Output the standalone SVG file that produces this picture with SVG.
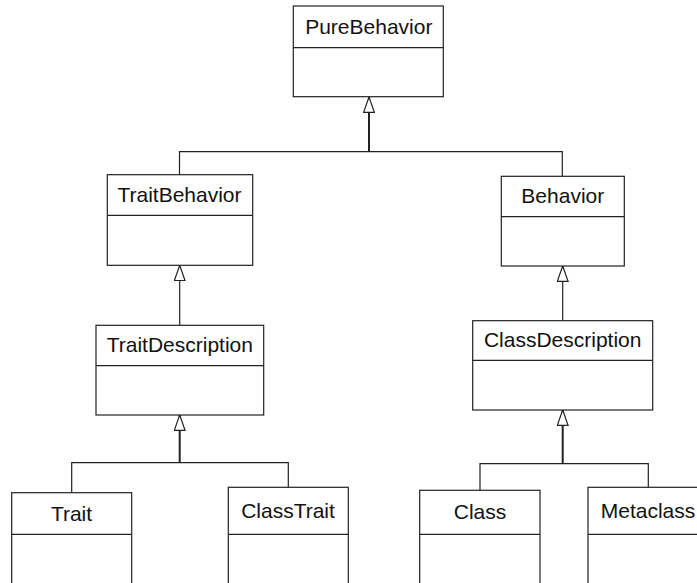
<svg xmlns="http://www.w3.org/2000/svg" width="697" height="583" viewBox="0 0 697 583">
  <style>
    .box { fill: #fff; stroke: #222; stroke-width: 1.2; }
    .sep { stroke: #222; stroke-width: 1.2; }
    .name { font-family: "Liberation Sans", Arial, sans-serif; font-size: 21px; fill: #111; text-anchor: middle; }
    .link { fill: none; stroke: #222; stroke-width: 1.2; }
    .stem { fill: none; stroke: #222; stroke-width: 2; marker-end: url(#gen); }
  </style>
  <defs>
    <!-- hollow generalization triangle, tip at the parent box -->
    <marker id="gen" viewBox="0 0 17 12" refX="16" refY="6" markerWidth="17" markerHeight="12" markerUnits="userSpaceOnUse" orient="auto">
      <path d="M0.6,0.6 L16,6 L0.6,11.4 Z" fill="#fff" stroke="#222" stroke-width="1.2"/>
    </marker>
  </defs>

  <g id="connectors">
    <path class="link" d="M179.5 174.7 V151.7 H562.3 V176.3"/>
    <path class="stem" d="M369 151.7 V97"/>
    <path class="stem" style="stroke-width:1.2" d="M179.7 325.3 V265.3"/>
    <path class="stem" style="stroke-width:1.2" d="M562.7 320.7 V266"/>
    <path class="link" d="M71.7 492.7 V462.7 H288.3 V487.3"/>
    <path class="stem" d="M179.7 462.7 V415"/>
    <path class="link" d="M480 490.3 V463.7 H648.3 V487.3"/>
    <path class="stem" d="M562.7 463.7 V410"/>
  </g>

  <g id="PureBehavior">
    <rect class="box" x="293.3" y="6" width="150" height="90.7"/>
    <line class="sep" x1="293.3" y1="47.7" x2="443.3" y2="47.7"/>
    <text class="name" x="368.8" y="34.3">PureBehavior</text>
  </g>

  <g id="TraitBehavior">
    <rect class="box" x="107.3" y="174.7" width="145.4" height="90.6"/>
    <line class="sep" x1="107.3" y1="215.3" x2="252.7" y2="215.3"/>
    <text class="name" x="179.5" y="202.3">TraitBehavior</text>
  </g>

  <g id="Behavior">
    <rect class="box" x="501.3" y="176.3" width="123" height="89.7"/>
    <line class="sep" x1="501.3" y1="216.7" x2="624.3" y2="216.7"/>
    <text class="name" x="562.8" y="203.3">Behavior</text>
  </g>

  <g id="TraitDescription">
    <rect class="box" x="96" y="325.3" width="167.7" height="89.7"/>
    <line class="sep" x1="96" y1="365.7" x2="263.7" y2="365.7"/>
    <text class="name" x="179.8" y="351.7">TraitDescription</text>
  </g>

  <g id="ClassDescription">
    <rect class="box" x="472.7" y="320.7" width="180" height="89.3"/>
    <line class="sep" x1="472.7" y1="360.3" x2="652.7" y2="360.3"/>
    <text class="name" x="562.7" y="347.3">ClassDescription</text>
  </g>

  <g id="Trait">
    <rect class="box" x="11.7" y="492.7" width="120" height="110"/>
    <line class="sep" x1="11.7" y1="534.3" x2="131.7" y2="534.3"/>
    <text class="name" x="71.5" y="521">Trait</text>
  </g>

  <g id="ClassTrait">
    <rect class="box" x="228.3" y="487.3" width="120" height="115"/>
    <line class="sep" x1="228.3" y1="534.3" x2="348.3" y2="534.3"/>
    <text class="name" x="288" y="518.3">ClassTrait</text>
  </g>

  <g id="Class">
    <rect class="box" x="419.7" y="490.3" width="120.3" height="112"/>
    <line class="sep" x1="419.7" y1="534.3" x2="540" y2="534.3"/>
    <text class="name" x="480" y="519">Class</text>
  </g>

  <g id="Metaclass">
    <rect class="box" x="588" y="487.3" width="120.6" height="115"/>
    <line class="sep" x1="588" y1="534.3" x2="708.6" y2="534.3"/>
    <text class="name" x="648" y="518.3">Metaclass</text>
  </g>
</svg>
